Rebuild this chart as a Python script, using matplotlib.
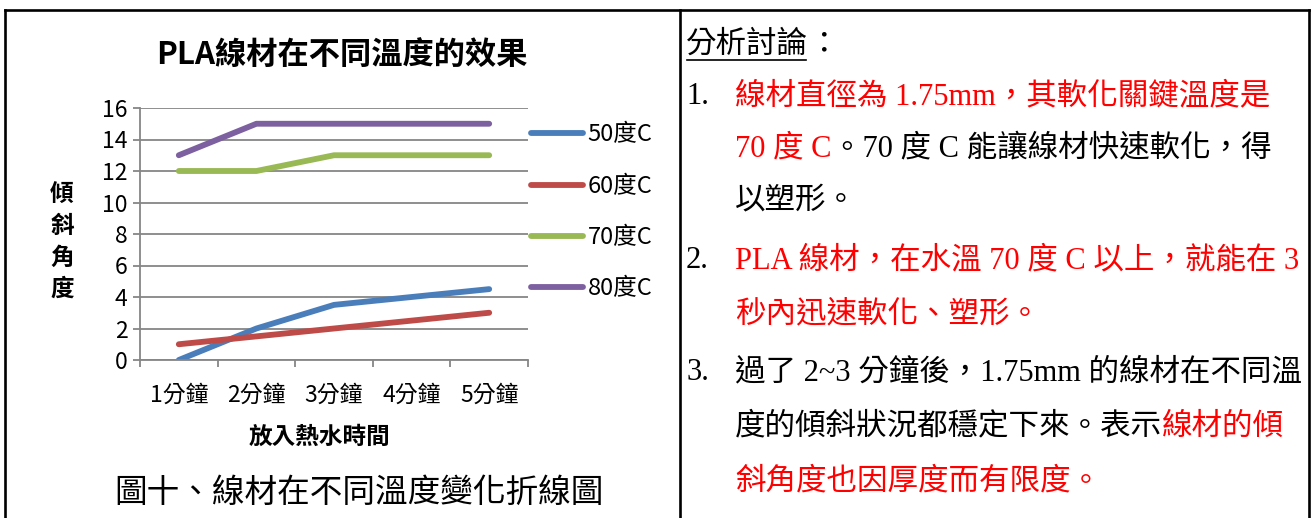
import numpy as np
import matplotlib.pyplot as plt

plt.rcParams['font.family'] = ['Noto Sans CJK TC', 'DejaVu Sans']

# 資料
times = ["1分鐘", "2分鐘", "3分鐘", "4分鐘", "5分鐘"]
temps = ["50度C", "60度C", "70度C", "80度C"]
v50 = [0, 2, 3.5, 4, 4.5]
v60 = [1, 1.5, 2, 2.5, 3]
v70 = [12, 12, 13, 13, 13]
v80 = [13, 15, 15, 15, 15]
colors = ["#4A7EBB", "#BE4B48", "#98B954", "#7D60A0"]

W, H = 1314, 518
fig = plt.figure(figsize=(W / 100, H / 100), dpi=100)

# 整張圖的像素座標層（表格框線、文字）
bg = fig.add_axes([0, 0, 1, 1])
bg.set_xlim(0, W)
bg.set_ylim(H, 0)
bg.axis("off")

lw_tab = 1.9
bg.plot([5, 1309], [10, 10], c="k", lw=lw_tab)
for xv in (5, 680, 1309):
    bg.plot([xv, xv], [10, H], c="k", lw=lw_tab)

# 折線圖
ax = fig.add_axes([140 / W, (H - 360) / H, (528 - 140) / W, (360 - 108) / H])
x = np.arange(len(times))
for vals, c, lab in zip([v50, v60, v70, v80], colors, temps):
    ax.plot(x, vals, c=c, lw=4.2, solid_capstyle="round", label=lab)

gray = "#868686"
ax.set_xlim(-0.5, 4.5)
ax.set_ylim(0, 16)
ax.set_yticks(np.arange(0, 17, 2))
ax.grid(axis="y", color=gray, lw=1.3)
ax.set_axisbelow(True)
ax.set_xticks(np.arange(-0.5, 5, 1))
ax.set_xticklabels([])
ax.set_xticks(x, minor=True)
ax.set_xticklabels(times, minor=True)
ax.tick_params(axis="x", which="major", length=5, width=1.3, color=gray)
ax.tick_params(axis="x", which="minor", length=0, labelsize=16.5, pad=17)
ax.tick_params(axis="y", length=5, width=1.3, color=gray, labelsize=16.5, pad=4)
for s in ("top", "right"):
    ax.spines[s].set_visible(False)
for s in ("left", "bottom"):
    ax.spines[s].set_color(gray)
    ax.spines[s].set_linewidth(1.3)

fig.legend(loc="center left", bbox_to_anchor=(531 / W, (H - 212) / H),
           frameon=False, fontsize=17, handlelength=2.2, handletextpad=0.2,
           labelspacing=1.2, borderpad=0, borderaxespad=0)

bg.text(342, 55, "PLA線材在不同溫度的效果", fontsize=22.5, fontweight="bold",
        ha="center", va="center")
bg.text(62, 242, "\n".join("傾斜角度"), fontsize=17, fontweight="bold",
        ha="center", va="center", linespacing=1.38)
bg.text(320, 437, "放入熱水時間", fontsize=17, fontweight="bold",
        ha="center", va="center")
bg.text(359, 493, "圖十、線材在不同溫度變化折線圖", fontsize=23.5,
        ha="center", va="center")

# 右欄：分析討論
serif = ["Liberation Serif", "Noto Sans CJK TC"]
red = "#FF0000"
fig.canvas.draw()
rend = fig.canvas.get_renderer()


def runs(x0, y, parts, size=22):
    xc = x0
    for s, c in parts:
        t = bg.text(xc, y, s, color=c, fontsize=size, family=serif,
                    ha="left", va="center")
        bb = t.get_window_extent(renderer=rend)
        xc += bb.width
    return xc


xe = runs(686, 45, [("分析討論", "k")])
bg.plot([687, xe - 2], [60, 60], c="k", lw=1.2)
runs(xe, 45, [("：", "k")])

runs(686, 97, [("1.", "k")])
runs(735, 97, [("線材直徑為 1.75mm，其軟化關鍵溫度是", red)])
runs(735, 149, [("70 度 C", red), ("。70 度 C 能讓線材快速軟化，得", "k")])
runs(735, 201, [("以塑形。", "k")])
runs(686, 261, [("2.", "k")])
runs(735, 261, [("PLA 線材，在水溫 70 度 C 以上，就能在 3", red)])
runs(735, 315, [("秒內迅速軟化、塑形。", red)])
runs(686, 373, [("3.", "k")])
runs(735, 373, [("過了 2~3 分鐘後，1.75mm 的線材在不同溫", "k")])
runs(735, 427, [("度的傾斜狀況都穩定下來。表示", "k"), ("線材的傾", red)])
runs(735, 482, [("斜角度也因厚度而有限度。", red)])

fig.savefig("out.png", dpi=100)
